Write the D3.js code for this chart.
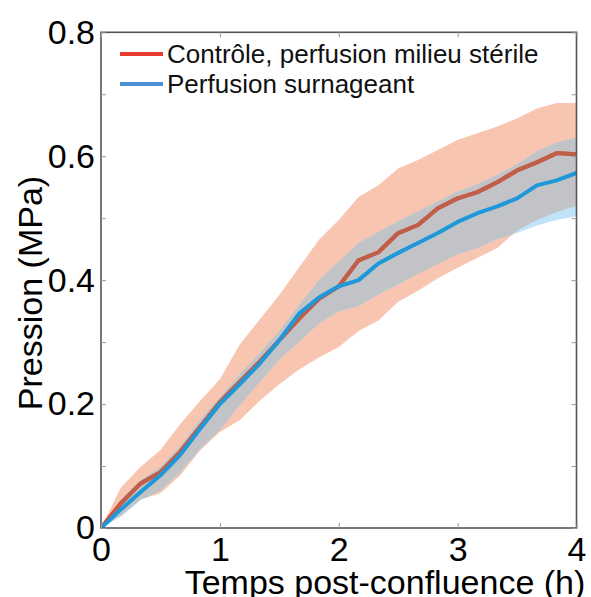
<!DOCTYPE html>
<html><head><meta charset="utf-8">
<script src="https://cdn.jsdelivr.net/npm/d3@7"></script>
<style>body{margin:0;background:#fff}svg{display:block}</style>
</head><body>
<svg id="c" width="591" height="597"></svg>
<script>
const time = [0,1/6,2/6,3/6,4/6,5/6,1,7/6,8/6,9/6,10/6,11/6,2,13/6,14/6,15/6,16/6,17/6,3,19/6,20/6,21/6,22/6,23/6,4];
const redMean  = [0,0.040,0.072,0.090,0.123,0.163,0.203,0.236,0.268,0.303,0.338,0.370,0.390,0.432,0.445,0.476,0.489,0.516,0.532,0.542,0.558,0.577,0.590,0.605,0.603];
const redUpper = [0,0.065,0.099,0.126,0.168,0.205,0.240,0.296,0.336,0.376,0.421,0.465,0.497,0.534,0.553,0.580,0.594,0.610,0.626,0.637,0.648,0.661,0.677,0.686,0.686];
const redLower = [0,0.020,0.046,0.056,0.085,0.125,0.155,0.174,0.205,0.232,0.256,0.275,0.292,0.318,0.335,0.365,0.383,0.403,0.420,0.436,0.452,0.480,0.497,0.510,0.520];
const blueMean  = [0,0.030,0.058,0.085,0.118,0.160,0.200,0.232,0.265,0.303,0.346,0.372,0.390,0.400,0.427,0.444,0.460,0.476,0.494,0.508,0.519,0.532,0.553,0.561,0.573];
const blueUpper = [0,0.045,0.077,0.099,0.132,0.175,0.211,0.248,0.282,0.318,0.360,0.400,0.430,0.460,0.478,0.495,0.511,0.527,0.543,0.555,0.570,0.587,0.608,0.622,0.630];
const blueLower = [0,0.018,0.045,0.060,0.090,0.128,0.158,0.198,0.235,0.272,0.300,0.330,0.350,0.358,0.377,0.393,0.410,0.426,0.442,0.452,0.466,0.476,0.488,0.497,0.503];
const xTicks = [0,1,2,3,4];
const yTicks = [0,0.2,0.4,0.6,0.8];
const yMinor = [0.1,0.3,0.5,0.7];
const seriesNames = ["Contrôle, perfusion milieu stérile","Perfusion surnageant"];
const xTitle = "Temps post-confluence (h)";
const yTitle = "Pression (MPa)";

const svg = d3.select("#c");
const L=101, R=576.5, T=32.3, B=528;
const x = d3.scaleLinear().domain([0,4]).range([L,R]);
const y = d3.scaleLinear().domain([0,0.8]).range([B,T]);
const FONT = "Liberation Sans, Arial, sans-serif";

const area = (lo,hi)=>d3.area().x((d,i)=>x(time[i])).y0((d,i)=>y(lo[i])).y1((d,i)=>y(hi[i]))(time);
const line = (v)=>d3.line().x((d,i)=>x(time[i])).y((d,i)=>y(v[i]))(time);

const defs = svg.append("defs");
defs.append("clipPath").attr("id","blueClip").append("path").attr("d",area(blueLower,blueUpper));
defs.append("clipPath").attr("id","plotClip").append("rect").attr("x",L).attr("y",T).attr("width",R-L).attr("height",B-T);

const g = svg.append("g").attr("clip-path","url(#plotClip)");
g.append("path").attr("d",area(redLower,redUpper)).attr("fill","#f7c5b0");
g.append("path").attr("d",area(blueLower,blueUpper)).attr("fill","#c0e3f7");
g.append("path").attr("d",area(redLower,redUpper)).attr("fill","#c1c3c6").attr("clip-path","url(#blueClip)");
g.append("path").attr("d",line(redMean)).attr("fill","none").attr("stroke","#e63a2c").attr("stroke-width",4).attr("stroke-linejoin","round");
g.append("g").attr("clip-path","url(#blueClip)").append("path").attr("d",line(redMean)).attr("fill","none").attr("stroke","#bf5f49").attr("stroke-width",4).attr("stroke-linejoin","round");
g.append("path").attr("d",line(blueMean)).attr("fill","none").attr("stroke","#1e98d9").attr("stroke-width",4).attr("stroke-linejoin","round");

// axes box
const axCol="#555";
svg.append("rect").attr("x",L).attr("y",T).attr("width",R-L).attr("height",B-T).attr("fill","none").attr("stroke",axCol).attr("stroke-width",1.6);

const xb = d3.axisBottom(x).tickValues(xTicks).tickSize(-5).tickPadding(9).tickFormat(d3.format("d"));
const xt = d3.axisTop(x).tickValues(xTicks).tickSize(-5).tickFormat("");
const yl = d3.axisLeft(y).tickValues(yTicks.concat(yMinor)).tickSize(-5).tickPadding(6).tickFormat(d=>yTicks.includes(d)?(d===0?"0":d3.format(".1f")(d)):"");
const yr = d3.axisRight(y).tickValues(yTicks.concat(yMinor)).tickSize(-5).tickFormat("");
function style(sel){
  sel.select(".domain").remove();
  sel.selectAll(".tick line").attr("stroke","#999").attr("stroke-width",1);
  sel.selectAll("text").attr("font-family",FONT).attr("font-size",34).attr("fill","#000");
}
svg.append("g").attr("transform",`translate(0,${B})`).call(xb).call(style);
svg.append("g").attr("transform",`translate(0,${T})`).call(xt).call(style);
svg.append("g").attr("transform",`translate(${L},0)`).call(yl).call(style);
svg.append("g").attr("transform",`translate(${R},0)`).call(yr).call(style);

svg.append("text").attr("x",385).attr("y",594).attr("text-anchor","middle").attr("font-family",FONT).attr("font-size",34).text(xTitle);
svg.append("text").attr("transform","translate(42,293) rotate(-90)").attr("text-anchor","middle").attr("font-family",FONT).attr("font-size",34).text(yTitle);

// legend
const legCols = ["#e63a2c","#4a90d2"];
seriesNames.forEach((n,i)=>{
  const cy = 54 + i*30;
  svg.append("line").attr("x1",120).attr("x2",163).attr("y1",cy).attr("y2",cy).attr("stroke",legCols[i]).attr("stroke-width",4);
  svg.append("text").attr("x",167).attr("y",cy+9).attr("font-family",FONT).attr("font-size",26).attr("fill","#111").text(n);
});
</script>
</body></html>
